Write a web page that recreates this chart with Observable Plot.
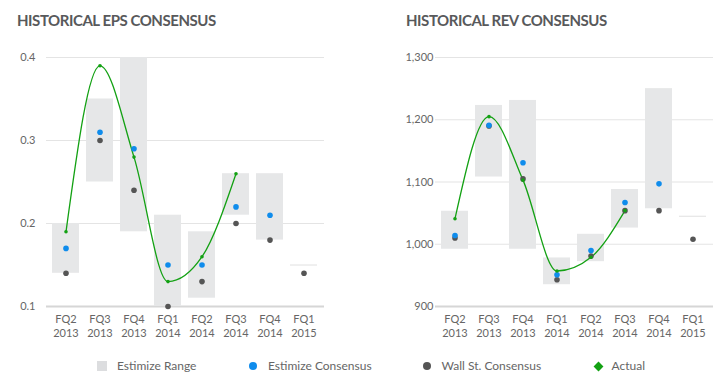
<!DOCTYPE html>
<html>
<head>
<meta charset="utf-8">
<script src="https://cdn.jsdelivr.net/npm/d3@7"></script>
<script src="https://cdn.jsdelivr.net/npm/@observablehq/plot@0.6"></script>
<style>
  html, body { margin: 0; padding: 0; background: #fff; }
  #root { position: relative; width: 727px; height: 387px; font-family: Lato, "Open Sans", sans-serif; overflow: hidden; }
  .title { position: absolute; top: 11px; font-weight: 700; font-size: 15px; color: #58595b; letter-spacing: -0.45px; white-space: nowrap; }
  .chart { position: absolute; top: 40px; }
  .leg { position: absolute; font-size: 12px; color: #666; white-space: nowrap; }
  .sw { position: absolute; }
</style>
</head>
<body>
<div id="root"></div>
<script>
// ---- data ----
const quarters = ["FQ2 2013", "FQ3 2013", "FQ4 2013", "FQ1 2014", "FQ2 2014", "FQ3 2014", "FQ4 2014", "FQ1 2015"];

const epsRangeLow  = [0.14, 0.25, 0.19, 0.10, 0.11, 0.21, 0.18, 0.15];
const epsRangeHigh = [0.20, 0.35, 0.40, 0.21, 0.19, 0.26, 0.26, 0.15];
const epsEstimize  = [0.17, 0.31, 0.29, 0.15, 0.15, 0.22, 0.21, null];
const epsWallSt    = [0.14, 0.30, 0.24, 0.10, 0.13, 0.20, 0.18, 0.14];
const epsActual    = [0.19, 0.39, 0.28, 0.13, 0.16, 0.26, null, null];
const epsTicks     = [0.1, 0.2, 0.3, 0.4];

const revRangeLow  = [992, 1108, 992, 935, 972, 1026, 1057, 1045];
const revRangeHigh = [1053, 1223, 1231, 978, 1016, 1088, 1250, 1045];
const revEstimize  = [1014, 1191, 1131, 951, 990, 1067, 1097, null];
const revWallSt    = [1010, 1190, 1105, 943, 981, 1054, 1054, 1008];
const revActual    = [1041, 1205, 1103, 957, 979, 1054, null, null];
const revTicks     = [900, 1000, 1100, 1200, 1300];

const titles = ["HISTORICAL EPS CONSENSUS", "HISTORICAL REV CONSENSUS"];
const legendLabels = ["Estimize Range", "Estimize Consensus", "Wall St. Consensus", "Actual"];

const colors = { range: "#e6e7e8", rangeLine: "#e0e0e0", estimize: "#0f8cec", wallst: "#555555", actual: "#13a113", grid: "#e4e4e4", base: "#d6d6d6", text: "#666666" };

function rows(lo, hi, est, ws, act) {
  return quarters.map((q, i) => ({ q, lo: lo[i], hi: hi[i], est: est[i], ws: ws[i], act: act[i] }));
}

function chart(data, ticks, fmt, opts) {
  const ranges = data.filter(d => d.hi - d.lo > 1e-9);
  const flat = data.filter(d => d.hi - d.lo <= 1e-9);
  const actual = data.filter(d => d.act != null);
  return Plot.plot({
    width: opts.width, height: 305,
    marginLeft: opts.ml, marginRight: opts.mr, marginTop: 17, marginBottom: 39,
    style: { fontFamily: "Lato, 'Open Sans', sans-serif", fontSize: "11px", color: colors.text, background: "transparent" },
    x: { type: "band", domain: quarters, paddingInner: 0.2, paddingOuter: 0.1, label: null },
    y: { domain: [ticks[0], ticks[ticks.length - 1]], label: null },
    marks: [
      Plot.ruleY(ticks.slice(1), { x1: opts.gx, stroke: colors.grid, strokeWidth: 1.2 }),
      Plot.ruleY([ticks[0]], { stroke: colors.base, strokeWidth: 2 }),
      Plot.barY(ranges, { x: "q", y1: "lo", y2: "hi", fill: colors.range }),
      Plot.tickY(flat, { x: "q", y: "lo", stroke: colors.rangeLine, strokeWidth: 1 }),
      Plot.line(actual, { x: "q", y: "act", stroke: colors.actual, strokeWidth: 1.3, curve: "monotone-x" }),
      Plot.dot(data.filter(d => d.ws != null), { x: "q", y: "ws", r: 2.8, fill: colors.wallst }),
      Plot.dot(data.filter(d => d.est != null), { x: "q", y: "est", r: 2.8, fill: colors.estimize }),
      Plot.dot(actual, { x: "q", y: "act", r: 1.8, fill: colors.actual }),
      Plot.axisY(ticks, { tickSize: 0, tickPadding: opts.yPad, tickFormat: fmt, fill: colors.text, fontSize: 11 }),
      Plot.axisX({ tickSize: 0, tickPadding: 7, tickFormat: d => d.replace(" ", "\n"), lineHeight: 1.27, fill: colors.text, fontSize: 11 })
    ]
  });
}

const root = document.getElementById("root");

const eps = chart(rows(epsRangeLow, epsRangeHigh, epsEstimize, epsWallSt, epsActual), epsTicks, d3.format(".1f"), { width: 363, ml: 46, mr: 39, yPad: 11 });
eps.classList.add("chart"); eps.style.left = "0px";
root.appendChild(eps);

const rev = chart(rows(revRangeLow, revRangeHigh, revEstimize, revWallSt, revActual), revTicks, d3.format(","), { width: 364, ml: 72, mr: 14, yPad: 2 });
rev.classList.add("chart"); rev.style.left = "363px";
root.appendChild(rev);

[[17, titles[0]], [406, titles[1]]].forEach(([x, t]) => {
  const el = document.createElement("div");
  el.className = "title"; el.style.left = x + "px"; el.textContent = t;
  root.appendChild(el);
});

// legend
const legY = 366;
const legItems = [
  { sx: 102, tx: 117, kind: "square", color: colors.range },
  { sx: 253, tx: 268, kind: "circle", color: colors.estimize },
  { sx: 427, tx: 441.5, kind: "circle", color: colors.wallst },
  { sx: 598, tx: 611.5, kind: "diamond", color: colors.actual }
];
legItems.forEach((it, i) => {
  const sw = document.createElement("div");
  sw.className = "sw";
  if (it.kind === "square") {
    Object.assign(sw.style, { left: (it.sx - 5) + "px", top: (legY - 5) + "px", width: "10px", height: "10px", background: "#dcdddf" });
  } else if (it.kind === "circle") {
    Object.assign(sw.style, { left: (it.sx - 4) + "px", top: (legY - 4) + "px", width: "8px", height: "8px", borderRadius: "50%", background: it.color });
  } else {
    Object.assign(sw.style, { left: (it.sx - 3.5) + "px", top: (legY - 3.5) + "px", width: "7px", height: "7px", background: it.color, transform: "rotate(45deg)" });
  }
  root.appendChild(sw);
  const tx = document.createElement("div");
  tx.className = "leg";
  Object.assign(tx.style, { left: it.tx + "px", top: (legY - 8) + "px" });
  tx.textContent = legendLabels[i];
  root.appendChild(tx);
});
</script>
</body>
</html>
